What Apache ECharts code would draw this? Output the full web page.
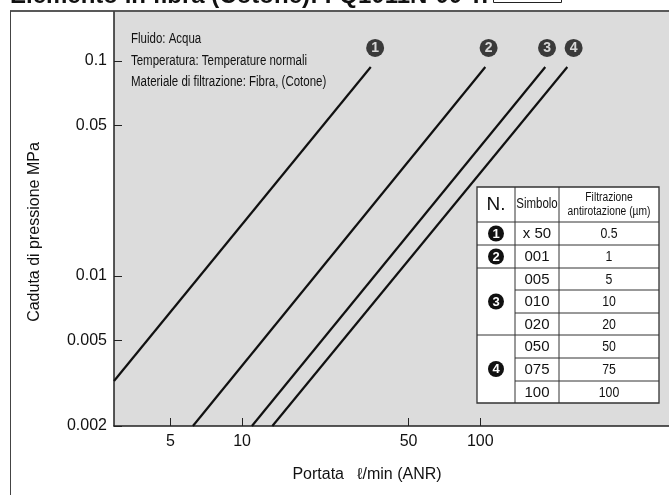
<!DOCTYPE html>
<html><head><meta charset="utf-8">
<script src="https://cdn.jsdelivr.net/npm/echarts@6/dist/echarts.min.js"></script>
<style>html,body{margin:0;padding:0;background:#fff}#c{width:669px;height:495px}</style>
</head><body><div id="c"></div>
<script>
// ---- data ----
const xTicks = [5, 10, 50, 100];
const yTicks = [0.002, 0.005, 0.01, 0.05, 0.1];
const line1 = [[2.90, 0.00324], [34.7, 0.0938]];
const line2 = [[6.22, 0.002], [105, 0.0938]];
const line3 = [[11.0, 0.002], [187.5, 0.0938]];
const line4 = [[13.4, 0.002], [232, 0.0938]];
const markerX = [36.2, 108.4, 190.7, 246.6];
const markerY = [0.115, 0.115, 0.115, 0.115];
const markerLabels = ['1', '2', '3', '4'];
const noteLines = ['Fluido: Acqua', 'Temperatura: Temperature normali', 'Materiale di filtrazione: Fibra, (Cotone)'];
const tableSymbols = ['x 50', '001', '005', '010', '020', '050', '075', '100'];
const tableFiltration = ['0.5', '1', '5', '10', '20', '50', '75', '100'];
const tableGroups = [['1', 0, 0], ['2', 1, 1], ['3', 2, 4], ['4', 5, 7]];

const L = Math.log10;
const fmt = v => String(Number(Math.pow(10, v).toPrecision(3)));
const toLog = arr => arr.map(p => [L(p[0]), L(p[1])]);

const SANS = '"Liberation Sans",Arial,sans-serif';
const NARROW_SCALE = 0.82;

// ---- table graphic ----
const colX = [477, 515, 559, 659];
const rowY = [187, 222, 245, 268, 290, 313, 335, 358, 381, 403];
const g = [];
g.push({type: 'rect', z: 50, shape: {x: colX[0], y: rowY[0], width: colX[3] - colX[0], height: rowY[9] - rowY[0]},
  style: {fill: '#fff', stroke: '#333', lineWidth: 1.3}});
[colX[1], colX[2]].forEach(x => g.push({type: 'line', z: 51, shape: {x1: x, y1: rowY[0], x2: x, y2: rowY[9]}, style: {stroke: '#333', lineWidth: 1}}));
const groupEnds = new Set(tableGroups.map(t => t[2]));
for (let i = 0; i < tableSymbols.length - 1; i++) {
  const y = rowY[i + 2];
  const x1 = groupEnds.has(i) ? colX[0] : colX[1];
  g.push({type: 'line', z: 51, shape: {x1: x1, y1: y, x2: colX[3], y2: y}, style: {stroke: '#333', lineWidth: 1}});
}
g.push({type: 'line', z: 51, shape: {x1: colX[0], y1: rowY[1], x2: colX[3], y2: rowY[1]}, style: {stroke: '#333', lineWidth: 1}});
const txt = (x, y, text, font, extra, narrow) => Object.assign({type: 'text', z: 52, x: x, y: y, scaleX: narrow ? NARROW_SCALE : 1,
  style: Object.assign({text: text, font: font, fill: '#111', align: 'center', verticalAlign: 'middle', textAlign: 'center', textVerticalAlign: 'middle'}, extra || {})});
const hy = (rowY[0] + rowY[1]) / 2;
g.push(txt((colX[0] + colX[1]) / 2, hy, 'N.', '19px ' + SANS));
g.push(txt((colX[1] + colX[2]) / 2, hy, 'Simbolo', '14px ' + SANS, null, true));
g.push(txt((colX[2] + colX[3]) / 2, hy - 7, 'Filtrazione', '12.5px ' + SANS, null, true));
g.push(txt((colX[2] + colX[3]) / 2, hy + 7, 'antirotazione (\u00b5m)', '12.5px ' + SANS, null, true));
tableSymbols.forEach((s, i) => {
  const cy = (rowY[i + 1] + rowY[i + 2]) / 2;
  g.push(txt((colX[1] + colX[2]) / 2, cy + 0.5, s, '15px ' + SANS));
  g.push(txt((colX[2] + colX[3]) / 2, cy + 0.5, tableFiltration[i], '15px ' + SANS, null, true));
});
tableGroups.forEach(t => {
  const cy = (rowY[t[1] + 1] + rowY[t[2] + 2]) / 2;
  const cx = (colX[0] + colX[1]) / 2;
  g.push({type: 'circle', z: 52, shape: {cx: cx, cy: cy, r: 8}, style: {fill: '#111'}});
  g.push(txt(cx, cy + 0.5, t[0], 'bold 13px ' + SANS, {fill: '#fff'}));
});
// frame, notes, titles
g.push({type: 'line', z: 40, shape: {x1: 10, y1: 11, x2: 669, y2: 11}, style: {stroke: '#222', lineWidth: 1.5}});
g.push({type: 'line', z: 40, shape: {x1: 10.5, y1: 11, x2: 10.5, y2: 495}, style: {stroke: '#444', lineWidth: 1}});
noteLines.forEach((s, i) => g.push(txt(131, 39.5 + i * 21.5, s, '14px ' + SANS, {align: 'left', textAlign: 'left'}, true)));
g.push(txt(35, 232, 'Caduta di pressione MPa', '16px ' + SANS, {}));
g[g.length - 1].rotation = Math.PI / 2;
g.push(txt(367, 475, 'Portata   \u2113/min (ANR)', '16px ' + SANS));
g.push(txt(10, 8, 'Elemento in fibra (Cotone): FQ1011N-00 T:', 'bold 24px ' + SANS, {align: 'left', textAlign: 'left', verticalAlign: 'bottom', textVerticalAlign: 'bottom'}));
g.push({type: 'rect', z: 40, shape: {x: 493.5, y: -10, width: 68, height: 12.5}, style: {fill: '#fff', stroke: '#222', lineWidth: 1}});

const lineSeries = [line1, line2, line3, line4].map(d => ({
  type: 'line', data: toLog(d), showSymbol: false, silent: true, animation: false,
  lineStyle: {color: '#111', width: 2.2}
}));

const chart = echarts.init(document.getElementById('c'), null, {renderer: 'canvas'});
chart.setOption({
  animation: false,
  backgroundColor: '#fff',
  grid: {left: 114, top: 12, right: 0, bottom: 69, show: true, backgroundColor: '#dcdcdc', borderWidth: 0},
  xAxis: {
    type: 'value', min: L(2.90), max: L(620),
    axisLine: {show: true, lineStyle: {color: '#222', width: 1.5}},
    axisTick: {show: true, inside: true, length: 8, customValues: xTicks.map(L), lineStyle: {color: '#222', width: 1}},
    axisLabel: {customValues: xTicks.map(L), formatter: fmt, margin: 8, fontSize: 16, color: '#111', fontFamily: SANS},
    splitLine: {show: false}
  },
  yAxis: {
    type: 'value', min: L(0.002), max: -0.772,
    axisLine: {show: true, lineStyle: {color: '#222', width: 1.5}},
    axisTick: {show: true, inside: true, length: 8, customValues: yTicks.map(L), lineStyle: {color: '#222', width: 1}},
    axisLabel: {customValues: yTicks.map(L), formatter: fmt, margin: 7, fontSize: 16, color: '#111', fontFamily: SANS},
    splitLine: {show: false}
  },
  series: lineSeries.concat([{
    type: 'scatter', silent: true,
    data: markerX.map((x, i) => [L(x), L(markerY[i])]),
    symbol: 'circle', symbolSize: 18, itemStyle: {color: '#111'},
    label: {show: true, position: 'inside', formatter: p => markerLabels[p.dataIndex], color: '#fff', fontWeight: 'bold', fontSize: 14, fontFamily: SANS}
  }]),
  graphic: {elements: g}
});
</script></body></html>
